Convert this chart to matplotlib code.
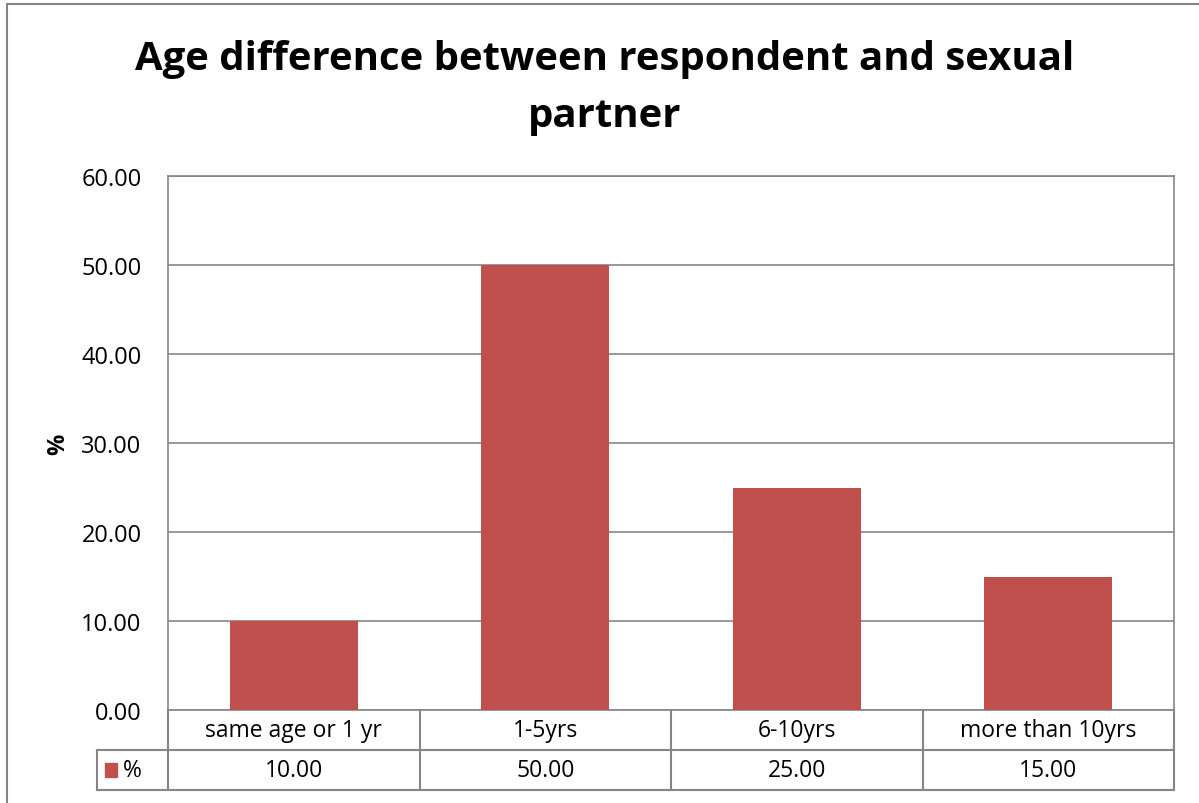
import matplotlib.pyplot as plt
import matplotlib.transforms as mtransforms
from matplotlib.patches import Rectangle
import numpy as np

plt.rcParams['font.family'] = ['Open Sans', 'DejaVu Sans']

categories = ['same age or 1 yr', '1-5yrs', '6-10yrs', 'more than 10yrs']
percent = [10.00, 50.00, 25.00, 15.00]
series_name = '%'
title = 'Age difference between respondent and sexual\npartner'

bar_color = '#C0504D'
grid_color = '#868686'
W, H = 1199, 804

fig = plt.figure(figsize=(W / 100, H / 100), dpi=100)
ax = fig.add_axes([168 / W, 1 - 711 / H, (1174 - 168) / W, (711 - 177) / H])

x = np.arange(len(categories))
ax.bar(x, percent, width=0.51, color=bar_color, zorder=3)

ax.set_xlim(-0.5, len(categories) - 0.5)
ax.set_ylim(0, 60)
ax.set_yticks(np.arange(0, 61, 10))
ax.set_yticklabels([f'{v:.2f}' for v in np.arange(0, 61, 10)], fontsize=17)
ax.tick_params(axis='y', length=0, pad=19)
ax.set_xticks([])
ax.grid(axis='y', color=grid_color, linewidth=1.2, zorder=0)
for s in ax.spines.values():
    s.set_color(grid_color)
    s.set_linewidth(1.2)

ax.set_ylabel(series_name, fontsize=17, fontweight='bold')
ax.yaxis.set_label_coords((70 - 168) / (1174 - 168), 0.5)

# data table below the axis
tr = mtransforms.blended_transform_factory(ax.transData, ax.transAxes)
row_h = 40 / (711 - 177)
legend_w = (168 - 97) / (1174 - 168) * len(categories)
lc = dict(color=grid_color, linewidth=1.5, clip_on=False, transform=tr)
x0, x1 = -0.5, len(categories) - 0.5
ax.plot([x0, x1], [-row_h, -row_h], **lc)
ax.plot([x0 - legend_w, x1], [-2 * row_h, -2 * row_h], **lc)
ax.plot([x0 - legend_w, x0], [-row_h, -row_h], **lc)
ax.plot([x0 - legend_w, x0 - legend_w], [-row_h, -2 * row_h], **lc)
for b in np.arange(-0.5, len(categories), 1.0):
    ax.plot([b, b], [0, -2 * row_h], **lc)
for xi, cat, val in zip(x, categories, percent):
    ax.text(xi, -0.5 * row_h, cat, transform=tr, ha='center', va='center', fontsize=16.5)
    ax.text(xi, -1.5 * row_h, f'{val:.2f}', transform=tr, ha='center', va='center', fontsize=16.5)
ax.add_patch(Rectangle((x0 - legend_w * 0.887, -1.5 * row_h - 0.013), legend_w * 0.17, 0.026,
                       transform=tr, color=bar_color, clip_on=False))
ax.text(x0 - legend_w * 0.63, -1.5 * row_h, series_name, transform=tr, ha='left', va='center', fontsize=16.5)

fig.text(605 / W, 1 - 88 / H, title, ha='center', va='center', fontsize=28.9,
         fontweight='bold', linespacing=1.63)

# outer chart border
fig.add_artist(Rectangle((7 / W, -0.01), 1.02, 1 - 5 / H + 0.01, transform=fig.transFigure,
                         fill=False, edgecolor=grid_color, linewidth=1.5))

fig.savefig('out.png', dpi=100)
